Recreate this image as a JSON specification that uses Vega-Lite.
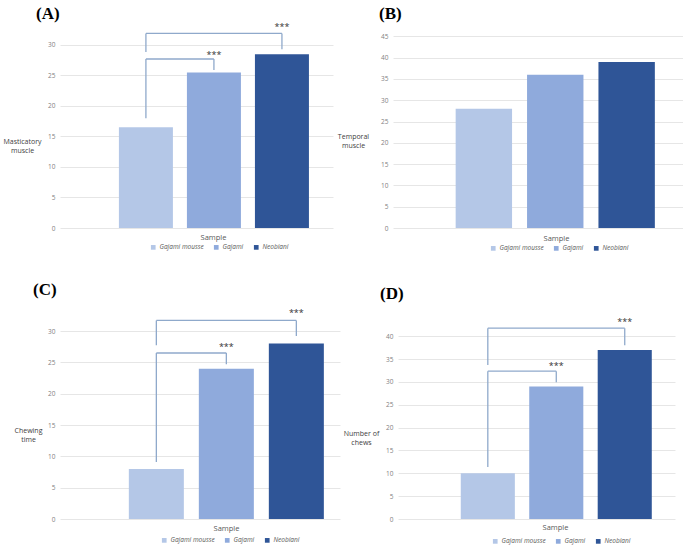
{
  "$schema": "https://vega.github.io/schema/vega-lite/v6.json",
  "padding": {"left": 2, "top": 5, "right": 0, "bottom": 0},
  "background": "white",
  "config": {
    "view": {"stroke": null},
    "font": "Open Sans",
    "axis": {"labelFont": "Open Sans", "labelFontSize": 6.5, "labelColor": "#7f7f7f", "gridColor": "#e6e6e6", "gridWidth": 1, "domain": false, "ticks": false, "labelOverlap": false, "titleFont": "Open Sans", "titleFontSize": 7, "titleFontWeight": "normal", "titleColor": "#404040"},
    "axisX": {"labels": false, "grid": false, "titleColor": "#595959", "titleBaseline": "middle", "titleAlign": "center", "titleFontSize": 7.5},
    "axisY": {"titleAngle": 0, "titleAlign": "center", "titleBaseline": "middle", "labelPadding": 5},
    "legend": {"orient": "none", "direction": "horizontal", "symbolType": "square", "symbolSize": 22, "symbolStrokeWidth": 0, "labelFont": "Open Sans", "labelFontSize": 6.5, "labelFontStyle": "italic", "labelColor": "#595959", "columnPadding": 9, "labelOffset": 3, "title": null},
    "title": {"font": "Liberation Serif", "fontSize": 17, "fontWeight": "bold", "anchor": "start", "frame": "group", "color": "#000000", "baseline": "bottom", "offset": 0},
    "rule": {"color": "#8fa9cb", "strokeWidth": 1.3},
    "text": {"fontSize": 9, "color": "#333333", "baseline": "middle"}
  },
  "resolve": {"scale": {"x": "independent", "y": "independent", "color": "independent"}},
  "spacing": 29,
  "vconcat": [
    {
      "spacing": 4,
      "resolve": {"scale": {"x": "independent", "y": "independent", "color": "independent"}},
      "hconcat": [
        {
          "title": {"text": "(A)", "dx": -24, "offset": -2},
          "width": 273, "height": 207,
          "layer": [
            {
              "data": {"values": [
                {"sample": "Gajami mousse", "value": 16.5},
                {"sample": "Gajami", "value": 25.5},
                {"sample": "Neobiani", "value": 28.5}
              ]},
              "mark": {"type": "bar"},
              "encoding": {
                "x": {"field": "sample", "type": "nominal", "title": "Sample", "scale": {"domain": ["Gajami mousse", "Gajami", "Neobiani"], "paddingInner": 0.206, "paddingOuter": 0.61, "align": 0.71}, "axis": {"titleX": 153, "titleY": 9}},
                "y": {"field": "value", "type": "quantitative", "title": ["Masticatory", "muscle"], "scale": {"domain": [0, 33.93], "nice": false}, "axis": {"values": [0, 5, 10, 15, 20, 25, 30], "titleX": -38, "titleY": 120.5}},
                "color": {"field": "sample", "type": "nominal", "scale": {"domain": ["Gajami mousse", "Gajami", "Neobiani"], "range": ["#b4c7e7", "#8faadc", "#2f5597"]}, "legend": {"legendX": 90, "legendY": 223}}
              }
            },
            {
              "data": {"values": [
                {"from": "Gajami mousse", "to": "Neobiani", "y1": 31.9, "y2": 31.9},
                {"from": "Gajami mousse", "to": "Gajami mousse", "y1": 28.85, "y2": 31.9},
                {"from": "Neobiani", "to": "Neobiani", "y1": 29.3, "y2": 31.9},
                {"from": "Gajami mousse", "to": "Gajami", "y1": 27.7, "y2": 27.7},
                {"from": "Gajami mousse", "to": "Gajami mousse", "y1": 18.0, "y2": 27.7},
                {"from": "Gajami", "to": "Gajami", "y1": 25.9, "y2": 27.7}
              ]},
              "mark": {"type": "rule"},
              "encoding": {
                "x": {"field": "from", "type": "nominal", "title": "Sample", "axis": {"titleX": 153, "titleY": 9}},
                "x2": {"field": "to"},
                "y": {"field": "y1", "type": "quantitative", "title": ["Masticatory", "muscle"], "axis": {"values": [0, 5, 10, 15, 20, 25, 30], "titleX": -38, "titleY": 120.5}},
                "y2": {"field": "y2"}
              }
            },
            {
              "data": {"values": [
                {"at": "Neobiani", "y": 32.95, "label": "***"},
                {"at": "Gajami", "y": 28.4, "label": "***"}
              ]},
              "mark": {"type": "text"},
              "encoding": {
                "x": {"field": "at", "type": "nominal", "title": "Sample", "axis": {"titleX": 153, "titleY": 9}},
                "y": {"field": "y", "type": "quantitative", "title": ["Masticatory", "muscle"], "axis": {"values": [0, 5, 10, 15, 20, 25, 30], "titleX": -38, "titleY": 120.5}},
                "text": {"field": "label"}
              }
            }
          ]
        },
        {
          "title": {"text": "(B)", "dx": -14, "offset": -2},
          "width": 290, "height": 207,
          "layer": [
            {
              "data": {"values": [
                {"sample": "Gajami mousse", "value": 28},
                {"sample": "Gajami", "value": 36},
                {"sample": "Neobiani", "value": 39}
              ]},
              "mark": {"type": "bar"},
              "encoding": {
                "x": {"field": "sample", "type": "nominal", "title": "Sample", "scale": {"domain": ["Gajami mousse", "Gajami", "Neobiani"], "paddingInner": 0.21, "paddingOuter": 0.636, "align": 0.69}, "axis": {"titleX": 163, "titleY": 10}},
                "y": {"field": "value", "type": "quantitative", "title": ["Temporal", "muscle"], "scale": {"domain": [0, 48.6], "nice": false}, "axis": {"values": [0, 5, 10, 15, 20, 25, 30, 35, 40, 45], "titleX": -40, "titleY": 115.5}},
                "color": {"field": "sample", "type": "nominal", "scale": {"domain": ["Gajami mousse", "Gajami", "Neobiani"], "range": ["#b4c7e7", "#8faadc", "#2f5597"]}, "legend": {"legendX": 97, "legendY": 224}}
              }
            }
          ]
        }
      ]
    },
    {
      "spacing": 3,
      "resolve": {"scale": {"x": "independent", "y": "independent", "color": "independent"}},
      "hconcat": [
        {
          "title": {"text": "(C)", "dx": -27, "offset": 7},
          "width": 280, "height": 213,
          "layer": [
            {
              "data": {"values": [
                {"sample": "Gajami mousse", "value": 8},
                {"sample": "Gajami", "value": 24},
                {"sample": "Neobiani", "value": 28}
              ]},
              "mark": {"type": "bar"},
              "encoding": {
                "x": {"field": "sample", "type": "nominal", "title": "Sample", "scale": {"domain": ["Gajami mousse", "Gajami", "Neobiani"], "paddingInner": 0.214, "paddingOuter": 0.607, "align": 0.81}, "axis": {"titleX": 166, "titleY": 9}},
                "y": {"field": "value", "type": "quantitative", "title": ["Chewing", "time"], "scale": {"domain": [0, 34], "nice": false}, "axis": {"values": [0, 5, 10, 15, 20, 25, 30], "titleX": -32, "titleY": 124}},
                "color": {"field": "sample", "type": "nominal", "scale": {"domain": ["Gajami mousse", "Gajami", "Neobiani"], "range": ["#b4c7e7", "#8faadc", "#2f5597"]}, "legend": {"legendX": 101, "legendY": 231}}
              }
            },
            {
              "data": {"values": [
                {"from": "Gajami mousse", "to": "Neobiani", "y1": 31.7, "y2": 31.7},
                {"from": "Gajami mousse", "to": "Gajami mousse", "y1": 27.75, "y2": 31.7},
                {"from": "Neobiani", "to": "Neobiani", "y1": 29.2, "y2": 31.7},
                {"from": "Gajami mousse", "to": "Gajami", "y1": 26.5, "y2": 26.5},
                {"from": "Gajami mousse", "to": "Gajami mousse", "y1": 9.1, "y2": 26.5},
                {"from": "Gajami", "to": "Gajami", "y1": 24.7, "y2": 26.5}
              ]},
              "mark": {"type": "rule"},
              "encoding": {
                "x": {"field": "from", "type": "nominal", "title": "Sample", "axis": {"titleX": 166, "titleY": 9}},
                "x2": {"field": "to"},
                "y": {"field": "y1", "type": "quantitative", "title": ["Chewing", "time"], "axis": {"values": [0, 5, 10, 15, 20, 25, 30], "titleX": -32, "titleY": 124}},
                "y2": {"field": "y2"}
              }
            },
            {
              "data": {"values": [
                {"at": "Neobiani", "y": 32.9, "label": "***"},
                {"at": "Gajami", "y": 27.4, "label": "***"}
              ]},
              "mark": {"type": "text"},
              "encoding": {
                "x": {"field": "at", "type": "nominal", "title": "Sample", "axis": {"titleX": 166, "titleY": 9}},
                "y": {"field": "y", "type": "quantitative", "title": ["Chewing", "time"], "axis": {"values": [0, 5, 10, 15, 20, 25, 30], "titleX": -32, "titleY": 124}},
                "text": {"field": "label"}
              }
            }
          ]
        },
        {
          "title": {"text": "(D)", "dx": -18, "offset": 3},
          "width": 277, "height": 213,
          "layer": [
            {
              "data": {"values": [
                {"sample": "Gajami mousse", "value": 10},
                {"sample": "Gajami", "value": 29},
                {"sample": "Neobiani", "value": 37}
              ]},
              "mark": {"type": "bar"},
              "encoding": {
                "x": {"field": "sample", "type": "nominal", "title": "Sample", "scale": {"domain": ["Gajami mousse", "Gajami", "Neobiani"], "paddingInner": 0.21, "paddingOuter": 0.628, "align": 0.73}, "axis": {"titleX": 157, "titleY": 8}},
                "y": {"field": "value", "type": "quantitative", "title": ["Number of", "chews"], "scale": {"domain": [0, 46.6], "nice": false}, "axis": {"values": [0, 5, 10, 15, 20, 25, 30, 35, 40], "titleX": -37, "titleY": 127.5}},
                "color": {"field": "sample", "type": "nominal", "scale": {"domain": ["Gajami mousse", "Gajami", "Neobiani"], "range": ["#b4c7e7", "#8faadc", "#2f5597"]}, "legend": {"legendX": 94, "legendY": 232}}
              }
            },
            {
              "data": {"values": [
                {"from": "Gajami mousse", "to": "Neobiani", "y1": 41.75, "y2": 41.75},
                {"from": "Gajami mousse", "to": "Gajami mousse", "y1": 33.7, "y2": 41.75},
                {"from": "Neobiani", "to": "Neobiani", "y1": 38.0, "y2": 41.75},
                {"from": "Gajami mousse", "to": "Gajami", "y1": 32.35, "y2": 32.35},
                {"from": "Gajami mousse", "to": "Gajami mousse", "y1": 11.4, "y2": 32.35},
                {"from": "Gajami", "to": "Gajami", "y1": 29.9, "y2": 32.35}
              ]},
              "mark": {"type": "rule"},
              "encoding": {
                "x": {"field": "from", "type": "nominal", "title": "Sample", "axis": {"titleX": 157, "titleY": 8}},
                "x2": {"field": "to"},
                "y": {"field": "y1", "type": "quantitative", "title": ["Number of", "chews"], "axis": {"values": [0, 5, 10, 15, 20, 25, 30, 35, 40], "titleX": -37, "titleY": 127.5}},
                "y2": {"field": "y2"}
              }
            },
            {
              "data": {"values": [
                {"at": "Neobiani", "y": 43.0, "label": "***"},
                {"at": "Gajami", "y": 33.4, "label": "***"}
              ]},
              "mark": {"type": "text"},
              "encoding": {
                "x": {"field": "at", "type": "nominal", "title": "Sample", "axis": {"titleX": 157, "titleY": 8}},
                "y": {"field": "y", "type": "quantitative", "title": ["Number of", "chews"], "axis": {"values": [0, 5, 10, 15, 20, 25, 30, 35, 40], "titleX": -37, "titleY": 127.5}},
                "text": {"field": "label"}
              }
            }
          ]
        }
      ]
    }
  ]
}
